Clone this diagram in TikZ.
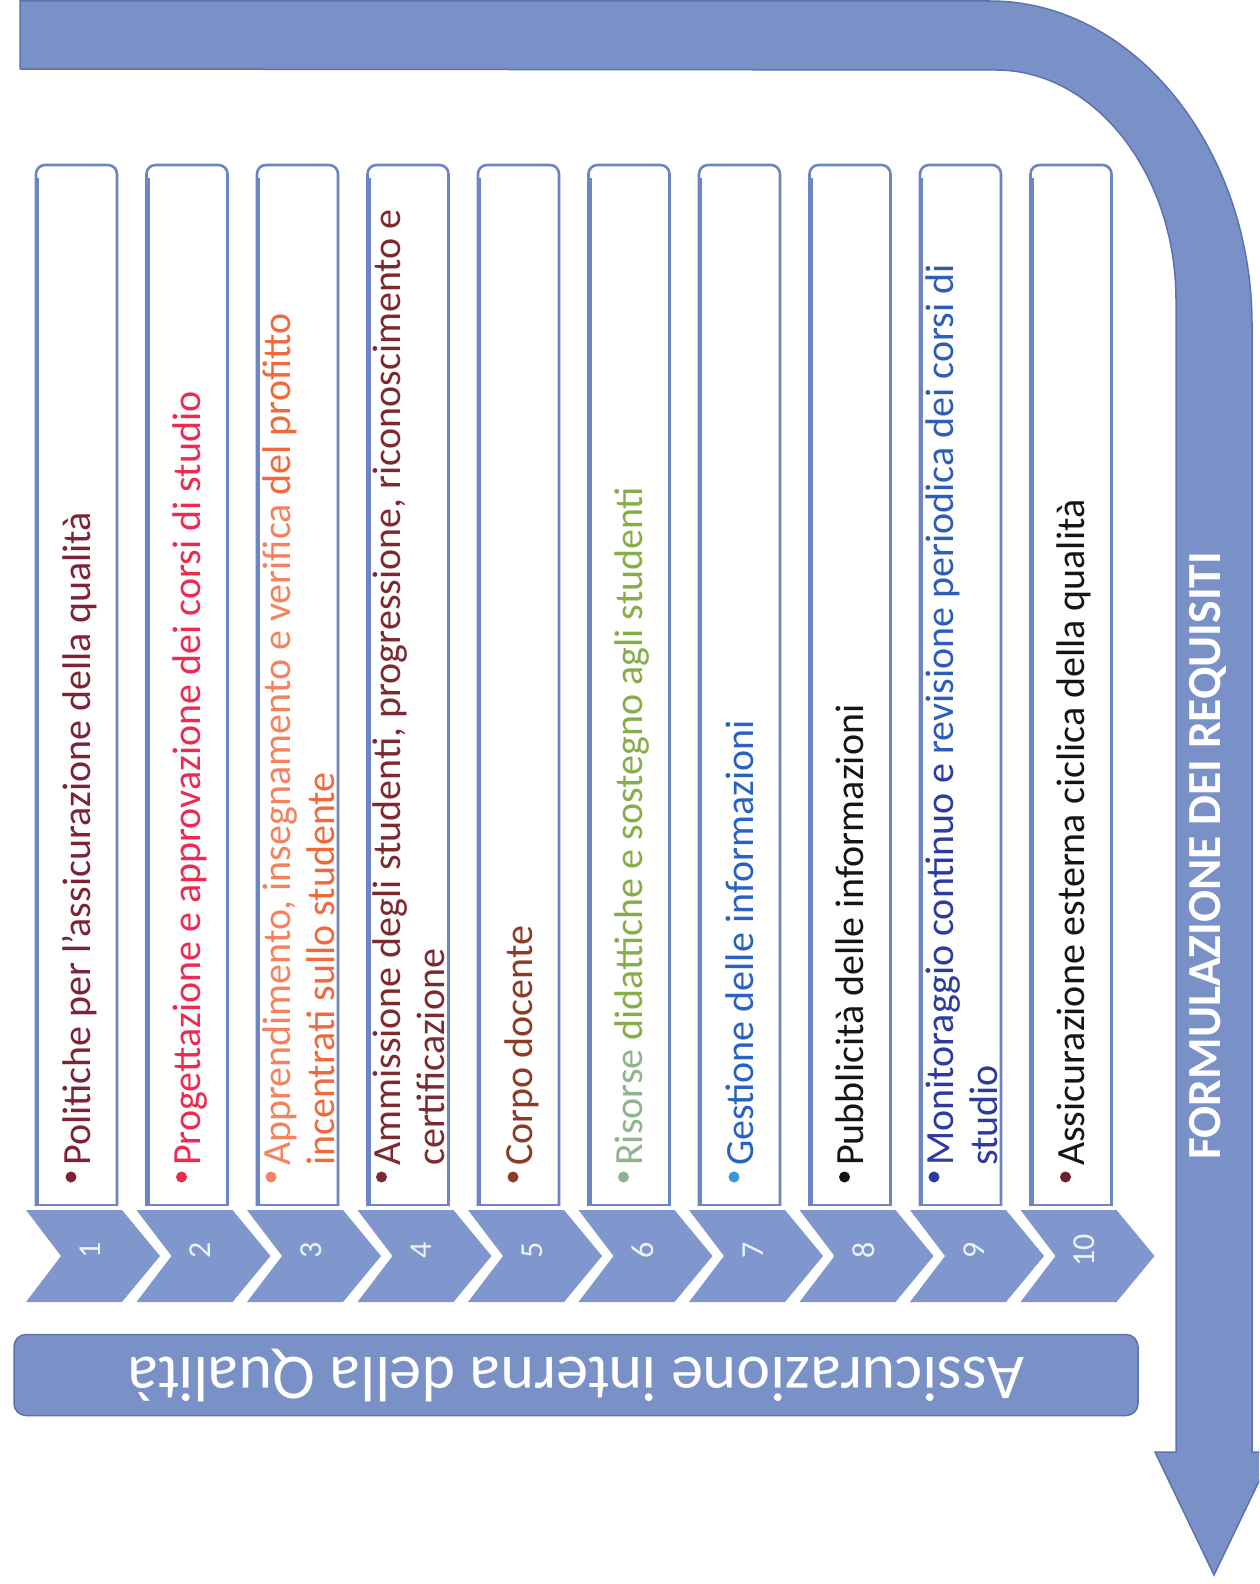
\documentclass[tikz,border=0pt]{standalone}
\usepackage{fontspec}
\setmainfont{Carlito}
\definecolor{bandfill}{HTML}{7A91C7}
\definecolor{banddraw}{HTML}{5C72AC}
\definecolor{chevfill}{HTML}{7F97CC}
\definecolor{colborder}{HTML}{6D85C3}
\definecolor{numcol}{HTML}{EEF1F8}
\definecolor{ca}{HTML}{7D2335}
\definecolor{cb}{HTML}{EE2A50}
\definecolor{cc}{HTML}{F4825E}
\definecolor{ccb}{HTML}{F2683B}
\definecolor{cd}{HTML}{7C2A30}
\definecolor{ce}{HTML}{8E3B26}
\definecolor{cf}{HTML}{8FB38C}
\definecolor{cfb}{HTML}{86AE48}
\definecolor{cg}{HTML}{2A62C0}
\definecolor{cgb}{HTML}{3597DA}
\definecolor{ch}{HTML}{151515}
\definecolor{ci}{HTML}{2B3BA0}
\definecolor{cib}{HTML}{2C5EB8}
\definecolor{cj}{HTML}{151515}
\definecolor{cjb}{HTML}{6A1F2F}
\tikzset{
  band/.style={fill=bandfill, draw=banddraw, line width=1.5pt},
  chev/.style={fill=chevfill},
  colframe/.style={draw=colborder, line width=2.6pt, rounded corners=9pt},
  numtext/.style={text=numcol, font=\fontsize{32}{34}\selectfont, rotate=90, inner sep=0pt},
  itemtext/.style={font=\fontsize{40}{46}\selectfont, rotate=90, anchor=base west, inner sep=0pt},
  bul/.style={circle, inner sep=0pt, minimum size=11pt},
  bigbox/.style={fill=bandfill, draw=banddraw, line width=1.5pt, rounded corners=12pt,
    minimum width=1124pt, minimum height=81pt, text=white, font=\fontsize{64}{66}\selectfont},
  formtext/.style={text=white, font=\bfseries\fontsize{47.5}{50}\selectfont, rotate=90, inner sep=0pt}
}
\newcommand\drawcol[1]{%
  \pgfmathsetmacro\L{36+110.5*(#1-1)}%
  \fill[white] (\L,1206) rectangle (\L+81,172);
  \draw[colframe] (\L,1206) -- (\L,165) -- (\L+81,165) -- (\L+81,1206);
  \draw[colborder, line width=4.5pt] (\L+1,1206) -- (\L+1,178);
  \draw[colborder, line width=2pt] (\L,1205) -- (\L+81,1205);
  \fill[chev] (\L-10,1210) -- (\L+86,1210) -- (\L+124,1256) -- (\L+86,1302) -- (\L-10,1302) -- (\L+25,1256) -- cycle;
  \node[numtext] (n#1) at (\L+54,1250) {#1};
}
\newcommand\oneline[4]{%
  \pgfmathsetmacro\L{36+110.5*(#1-1)}%
  \node[bul, fill=#3] (b#1) at (\L+35,1177) {};
  \node[itemtext, text=#2] (t#1) at (\L+54,1166) {#4};
}
\newcommand\twoline[5]{%
  \pgfmathsetmacro\L{36+110.5*(#1-1)}%
  \node[bul, fill=#3] (b#1) at (\L+14,1177) {};
  \node[itemtext, text=#2] (t#1) at (\L+33,1166) {#4};
  \node[itemtext, text=#2] (u#1) at (\L+77,1166) {#5};
}
\begin{document}
\begin{tikzpicture}[x=1pt,y=-1pt]
\useasboundingbox (0,0) rectangle (1259,1584);
\clip (0,0) rectangle (1259,1584);
\fill[white] (0,0) rectangle (1259,1584);
% big bent arrow
\path[band] (20,1) -- (990,1) .. controls (1135,1) and (1252,150) .. (1252,325)
  -- (1252,1452) -- (1273,1452) -- (1214,1575) -- (1155,1452) -- (1176,1452)
  -- (1176,300) .. controls (1176,174) and (1095,70) .. (996,70) -- (20,69) -- cycle;
\node[formtext] (form) at (1208,856) {FORMULAZIONE DEI REQUISITI};
% columns
\foreach \i in {1,...,10} {\drawcol{\i}}
\oneline{1}{ca}{ca}{Politiche per l’assicurazione della qualità}
\oneline{2}{cb}{cb}{Progettazione e approvazione dei corsi di studio}
\twoline{3}{ccb}{cc}{\textcolor{cc}{Apprendimento, insegnamento e verifica} del profitto}{incentrati sullo studente}
\twoline{4}{cd}{cd}{Ammissione degli studenti, progressione, riconoscimento e}{certificazione}
\oneline{5}{ce}{ce}{Corpo docente}
\oneline{6}{cfb}{cf}{\textcolor{cf}{Risorse} didattiche e sostegno agli studenti}
\oneline{7}{cg}{cgb}{Gestione delle informazioni}
\oneline{8}{ch}{ch}{Pubblicità delle informazioni}
\twoline{9}{ci}{ci}{Monitoraggio continuo e \textcolor{cib}{revisione periodica dei corsi di}}{studio}
\oneline{10}{cj}{cjb}{Assicurazione esterna ciclica della qualità}
% bottom box
\node[bigbox, rotate=180] (aiq) at (576,1375) {Assicurazione interna della Qualità};
\end{tikzpicture}
\end{document}
